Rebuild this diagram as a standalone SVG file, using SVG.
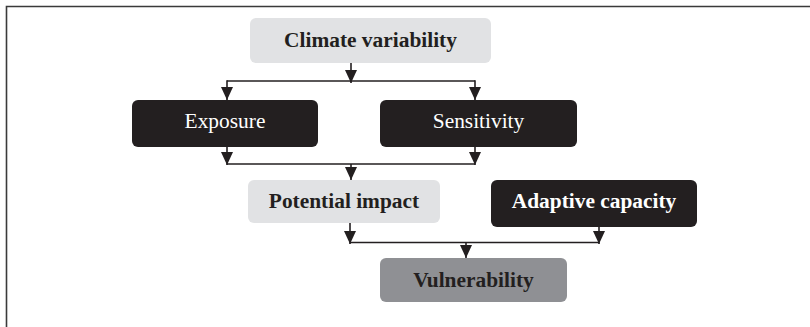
<svg xmlns="http://www.w3.org/2000/svg" width="810" height="327" viewBox="0 0 810 327">
<style>
.light{fill:#e1e2e4}
.dark{fill:#231f20}
.mid{fill:#8f9094}
.t{font-family:"Liberation Serif","Times New Roman",serif;font-size:21.4px;text-anchor:middle}
.b{font-weight:bold}
.tw{fill:#ffffff}
.td{fill:#231f20}
.c{fill:none;stroke:#231f20;stroke-width:1.6}
</style>
<defs>
<marker id="ah" viewBox="0 -7 14 14" refX="13" refY="0" markerWidth="14" markerHeight="14" markerUnits="userSpaceOnUse" orient="auto">
<path d="M0,-6 L13,0 L0,6 z" fill="#231f20"/>
</marker>
</defs>
<rect width="810" height="327" fill="#ffffff"/>
<path d="M6.5,327 V6.5 H810" fill="none" stroke="#3a3a3a" stroke-width="1.6"/>
<g id="climate">
<rect class="light" x="250" y="18" width="241" height="45" rx="6"/>
<text class="t b td" x="370.5" y="47">Climate variability</text>
</g>
<g id="exposure">
<rect class="dark" x="132" y="100" width="186" height="47" rx="6"/>
<text class="t tw" x="225" y="128">Exposure</text>
</g>
<g id="sensitivity">
<rect class="dark" x="380" y="100" width="197" height="47" rx="6"/>
<text class="t tw" x="478.5" y="128">Sensitivity</text>
</g>
<g id="potential">
<rect class="light" x="248" y="180" width="192" height="43" rx="6"/>
<text class="t b td" x="344" y="208">Potential impact</text>
</g>
<g id="adaptive">
<rect class="dark" x="491" y="180" width="206" height="47" rx="6"/>
<text class="t b tw" x="594" y="208">Adaptive capacity</text>
</g>
<g id="vulnerability">
<rect class="mid" x="380" y="258" width="187" height="44" rx="6"/>
<text class="t b td" x="473.5" y="287">Vulnerability</text>
</g>
<g id="connectors">
<path class="c" d="M351,63 V83" marker-end="url(#ah)"/>
<path class="c" d="M227,81 H475"/>
<path class="c" d="M227,80.2 V100" marker-end="url(#ah)"/>
<path class="c" d="M475,80.2 V100" marker-end="url(#ah)"/>
<path class="c" d="M227,147 V165" marker-end="url(#ah)"/>
<path class="c" d="M475,147 V165" marker-end="url(#ah)"/>
<path class="c" d="M227,164 H475"/>
<path class="c" d="M351,164 V180" marker-end="url(#ah)"/>
<path class="c" d="M350,223 V244" marker-end="url(#ah)"/>
<path class="c" d="M599,227 V244" marker-end="url(#ah)"/>
<path class="c" d="M350,242.5 H599"/>
<path class="c" d="M466,242.5 V258" marker-end="url(#ah)"/>
</g>
</svg>
